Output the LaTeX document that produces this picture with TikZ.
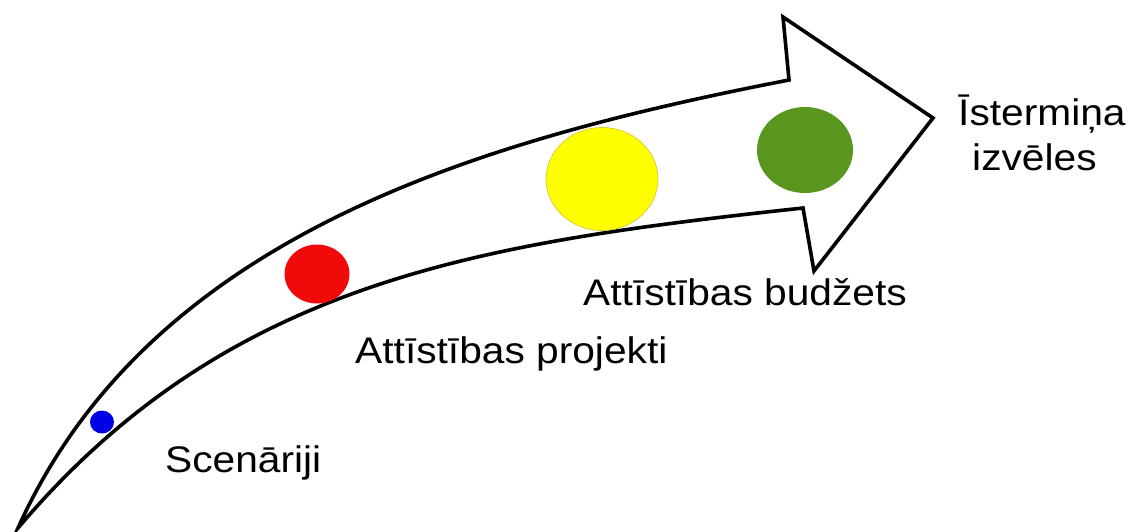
\documentclass[tikz,border=0pt]{standalone}
\usepackage{fontspec}
\setmainfont{Liberation Sans}
\begin{document}
\begin{tikzpicture}[x=1pt,y=-1pt,
  outline/.style={draw=black,line width=3.6pt,line join=miter,fill=white},
  lbl/.style={inner sep=0pt,anchor=base west,font=\fontsize{37}{42}\selectfont,xscale=1.1}]
\useasboundingbox (0,0) rectangle (1129,531);
\fill[white] (0,0) rectangle (1129,531);
% curved arrow
\draw[outline]
  (18,528) .. controls (150,235) and (480,140) .. (789,80)
  -- (783,17) -- (933,118) -- (814,271) -- (803,208)
  .. controls (480,243) and (228,280) .. (18,528)
  -- cycle;
% dots
\fill[color={rgb,255:red,0;green,0;blue,230}] (102,422) ellipse [x radius=12,y radius=11.5];
\fill[color={rgb,255:red,240;green,10;blue,10}] (317,274) ellipse [x radius=32.5,y radius=29.5];
\filldraw[fill={rgb,255:red,255;green,255;blue,0},draw={rgb,255:red,215;green,200;blue,60},line width=0.7pt] (602,179) ellipse [x radius=56,y radius=51.5];
\fill[color={rgb,255:red,88;green,150;blue,30}] (805,150) ellipse [x radius=48,y radius=43];
% labels
\node[lbl] (scen) at (165,472) {Scenāriji};
\node[lbl] (proj) at (355,363) {Attīstības projekti};
\node[lbl] (budz) at (583,305) {Attīstības budžets};
\node[lbl] (ist) at (958,125) {Īstermiņa};
\node[lbl] (izv) at (972,170) {izvēles};
\end{tikzpicture}
\end{document}
